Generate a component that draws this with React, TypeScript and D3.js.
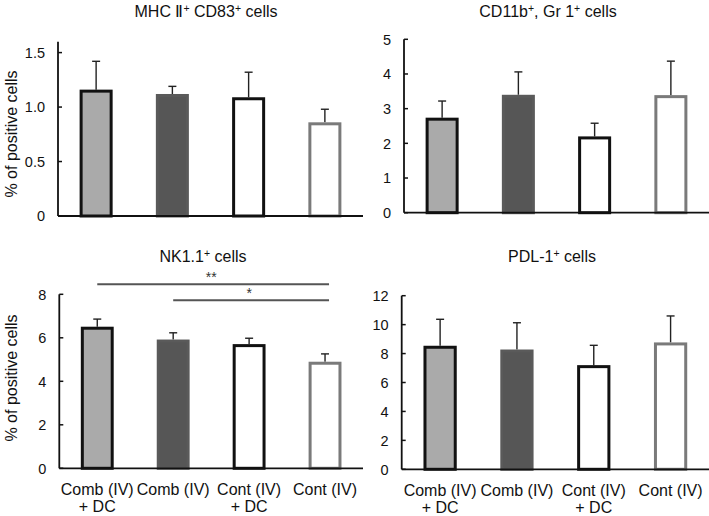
import React from 'react';
import * as d3 from 'd3';

// groups on the x axis
const categories = ['Comb (IV)|+ DC', 'Comb (IV)', 'Cont (IV)|+ DC', 'Cont (IV)'];

// means and upper error bars
const mhcMeans = [1.16, 1.12, 1.09, 0.86];
const mhcErr = [0.26, 0.07, 0.23, 0.12];
const cd11bMeans = [2.74, 3.40, 2.20, 3.39];
const cd11bErr = [0.48, 0.66, 0.38, 0.98];
const nkMeans = [6.51, 5.92, 5.71, 4.90];
const nkErr = [0.35, 0.31, 0.27, 0.36];
const pdlMeans = [8.54, 8.28, 7.20, 8.77];
const pdlErr = [1.83, 1.85, 1.37, 1.83];

const mhcTicks = [0, 0.5, 1.0, 1.5];
const mhcTickLabels = ['0', '0.5', '1.0', '1.5'];
const cd11bTicks = [0, 1, 2, 3, 4, 5];
const nkTicks = [0, 2, 4, 6, 8];
const pdlTicks = [0, 2, 4, 6, 8, 10, 12];

// significance brackets for NK panel: [from, to, label]
const nkSig: [number, number, string][] = [[0, 3, '**'], [1, 3, '*']];

const barStyles = [
  { fill: '#aaaaaa', stroke: '#111' },
  { fill: '#565656', stroke: '#5a5a5a' },
  { fill: '#ffffff', stroke: '#111' },
  { fill: '#ffffff', stroke: '#7a7a7a' },
];

const FONT = '"Liberation Sans", Arial, Helvetica, sans-serif';

type Part = { t: string; sup?: boolean };

function Title({ x, y, parts }: { x: number; y: number; parts: Part[] }) {
  return (
    <text x={x} y={y} textAnchor="middle" fontSize={16} fill="#111" fontFamily={FONT}>
      {parts.map((p, i) => p.sup
        ? <tspan key={i} fontSize={10.5} dy={-5}>{p.t}</tspan>
        : <tspan key={i} dy={i > 0 && parts[i - 1].sup ? 5 : 0}>{p.t}</tspan>)}
    </text>
  );
}

function Panel(props: any) {
  const { axisX, xEnd, y0, yTop, max, means, errs, ticks, tickLabels, title, titleX, titleY,
    showCats, yLabel, labelY, sig } = props;
  const x = d3.scaleBand<string>().domain(categories).range([axisX, xEnd])
    .paddingInner(0.567).paddingOuter(0.2835);
  const y = d3.scaleLinear().domain([0, max]).range([y0, yTop]);
  const bw = x.bandwidth();
  const cx = (i: number) => (x(categories[i]) as number) + bw / 2;

  return (
    <g fontFamily={FONT}>
      <Title x={titleX} y={titleY} parts={title} />
      {yLabel && (
        <text transform={`translate(17,${labelY}) rotate(-90)`} textAnchor="middle"
          fontSize={16} fill="#111">% of positive cells</text>
      )}
      {means.map((m: number, i: number) => (
        <g key={i}>
          <line x1={cx(i)} x2={cx(i)} y1={y(m)} y2={y(m + errs[i])} stroke="#222" strokeWidth={1.4} />
          <line x1={cx(i) - 4} x2={cx(i) + 4} y1={y(m + errs[i])} y2={y(m + errs[i])} stroke="#222" strokeWidth={1.4} />
          <rect x={(x(categories[i]) as number) + 1.5} y={y(m) + 1.5} width={bw - 3}
            height={y0 - y(m) - 1.5} fill={barStyles[i].fill} stroke={barStyles[i].stroke}
            strokeWidth={3} />
        </g>
      ))}
      <line x1={axisX} x2={axisX} y1={y0} y2={yTop} stroke="#111" strokeWidth={1.8} />
      <line x1={axisX} x2={xEnd} y1={y0} y2={y0} stroke="#111" strokeWidth={1.8} />
      {ticks.map((t: number, i: number) => (
        <g key={i}>
          <line x1={axisX} x2={axisX + 4} y1={y(t)} y2={y(t)} stroke="#111" strokeWidth={1.5} />
          <text x={axisX - 13} y={y(t)} dy="0.36em" textAnchor="end" fontSize={14.5} fill="#111">
            {tickLabels ? tickLabels[i] : String(t)}
          </text>
        </g>
      ))}
      {showCats && categories.map((c, i) => c.split('|').map((line, j) => (
        <text key={`${i}-${j}`} x={cx(i)} y={y0 + 27 + j * 17} textAnchor="middle" fontSize={16} fill="#111">
          {line}
        </text>
      )))}
      {sig && sig.map(([a, b, lab]: [number, number, string], k: number) => {
        const ly = yTop - 10 + k * 16;
        return (
          <g key={k}>
            <line x1={cx(a)} x2={cx(b) + 4} y1={ly} y2={ly} stroke="#555" strokeWidth={2} />
            <text x={(cx(a) + cx(b)) / 2} y={ly - 2} textAnchor="middle" fontSize={14} fill="#333">{lab}</text>
          </g>
        );
      })}
    </g>
  );
}

export default function App() {
  return (
    <svg width={709} height={516} style={{ position: 'absolute', left: 0, top: 0, background: '#fff' }}>
      <Panel axisX={58} xEnd={363} y0={216} yTop={41.7} max={1.6} means={mhcMeans} errs={mhcErr}
        ticks={mhcTicks} tickLabels={mhcTickLabels} titleX={206} titleY={17}
        title={[{ t: 'MHC Ⅱ' }, { t: '+', sup: true }, { t: '  CD83' }, { t: '+', sup: true }, { t: ' cells' }]}
        yLabel labelY={134} />
      <Panel axisX={404} xEnd={709} y0={212.7} yTop={39.3} max={5} means={cd11bMeans} errs={cd11bErr}
        ticks={cd11bTicks} titleX={548} titleY={17}
        title={[{ t: 'CD11b' }, { t: '+', sup: true }, { t: ', Gr 1' }, { t: '+', sup: true }, { t: ' cells' }]} />
      <Panel axisX={59.3} xEnd={363} y0={468.3} yTop={294.3} max={8} means={nkMeans} errs={nkErr}
        ticks={nkTicks} titleX={203} titleY={262} showCats sig={nkSig}
        title={[{ t: 'NK1.1' }, { t: '+', sup: true }, { t: ' cells' }]}
        yLabel labelY={378} />
      <Panel axisX={401.7} xEnd={709} y0={469.3} yTop={295.7} max={12} means={pdlMeans} errs={pdlErr}
        ticks={pdlTicks} titleX={552} titleY={262} showCats
        title={[{ t: 'PDL-1' }, { t: '+', sup: true }, { t: ' cells' }]} />
    </svg>
  );
}
